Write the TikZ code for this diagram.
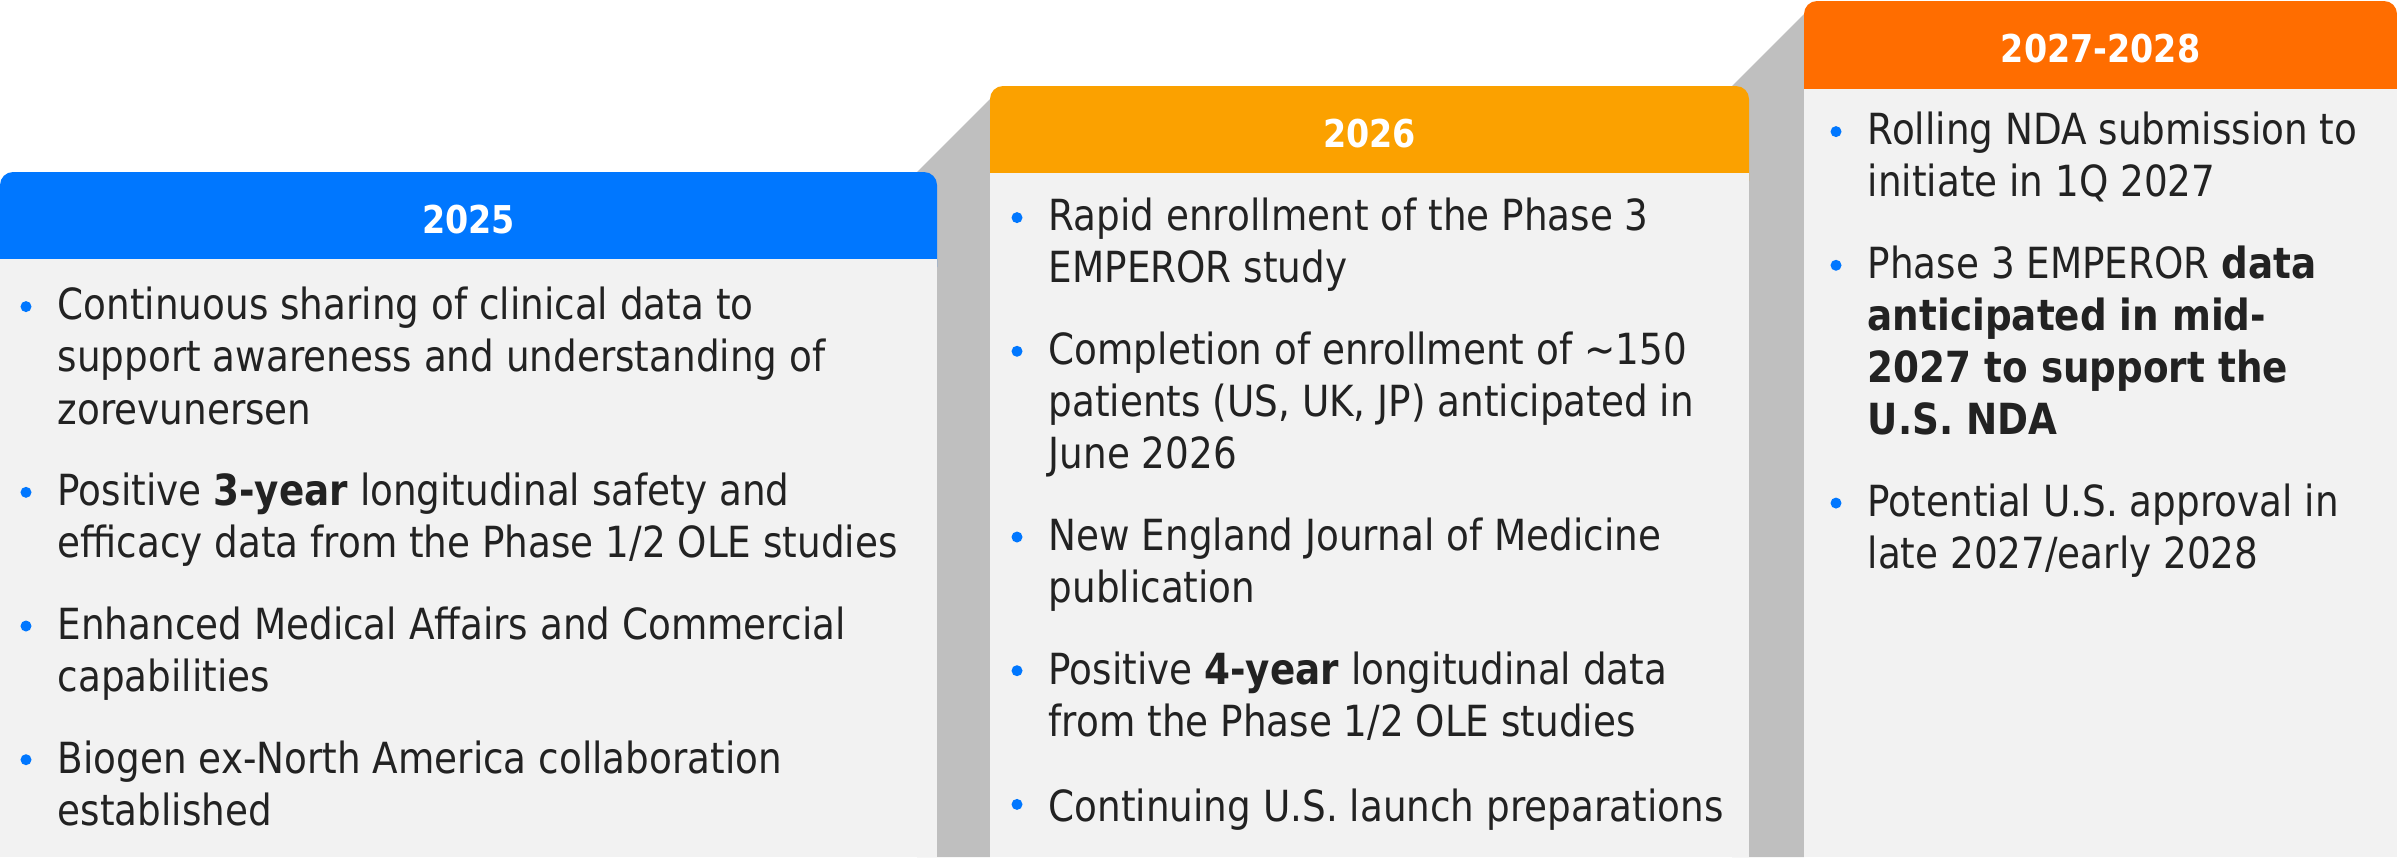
\documentclass[tikz,border=0pt]{standalone}
\usepackage{fontspec}
\setmainfont{DejaVu Sans}[FakeStretch=0.87]
\usetikzlibrary{positioning}

\definecolor{blue25}{HTML}{0077FF}
\definecolor{amber26}{HTML}{FBA100}
\definecolor{orange27}{HTML}{FF6D00}
\definecolor{panel}{HTML}{F2F2F2}
\definecolor{riser}{HTML}{BFBFBF}
\definecolor{ink}{HTML}{222222}

\tikzset{
    year/.style={ % white title in the coloured bar
    text=white, inner sep=0,
    font=\fontsize{10.9pt}{13pt}\selectfont\bfseries},
    point/.style={ % one bullet point of a column
    anchor=north west, align=left, inner sep=0, text=ink,
    font=\fontsize{12.2pt}{14.8pt}\selectfont,
    execute at begin node=\strut, execute at end node=\strut},
    next/.style={below=0.32cm of #1.south west, anchor=north west}}

\begin{document}
\begin{tikzpicture}[x=0.01cm, y=-0.01cm] % one unit per pixel, y pointing down
    \useasboundingbox (0,0) rectangle (2397,857);

    % Grey risers between the steps
    \fill[riser] (917,172) -- (990,99) -- (990,857) -- (917,857) -- cycle;
    \fill[riser] (1732,86) -- (1804,14) -- (1804,857) -- (1732,857) -- cycle;

    % 2025 column
    \fill[blue25, rounded corners=0.13cm] (0,172) rectangle (937,280);
    \fill[panel] (0,259) rectangle (937,857);
    \node[year] (h25) at (468.5,219.5) {2025};
    \node[point] (a1) at (57,286.6) {Continuous sharing of clinical data to\\support awareness and understanding of\\zorevunersen};
    \node[point, next=a1] (a2) {Positive \textbf{3-year} longitudinal safety and\\efficacy data from the Phase 1/2 OLE studies};
    \node[point, next=a2] (a3) {Enhanced Medical Affairs and Commercial\\capabilities};
    \node[point, next=a3] (a4) {Biogen ex-North America collaboration\\established};

    % 2026 column
    \fill[amber26, rounded corners=0.13cm] (990,86) rectangle (1749,194);
    \fill[panel] (990,173) rectangle (1749,857);
    \node[year] (h26) at (1369.5,133.5) {2026};
    \node[point] (b1) at (1048,197.6) {Rapid enrollment of the Phase 3\\EMPEROR study};
    \node[point, next=b1] (b2) {Completion of enrollment of \textasciitilde150\\patients (US, UK, JP) anticipated in\\June 2026};
    \node[point, next=b2] (b3) {New England Journal of Medicine\\publication};
    \node[point, next=b3] (b4) {Positive \textbf{4-year} longitudinal data\\from the Phase 1/2 OLE studies};
    \node[point, next=b4] (b5) {Continuing U.S. launch preparations};

    % 2027-2028 column
    \fill[orange27, rounded corners=0.13cm] (1804,1) rectangle (2397,110);
    \fill[panel] (1804,89) rectangle (2397,857);
    \node[year] (h27) at (2100.5,48.5) {2027-2028};
    \node[point] (c1) at (1867,111.6) {Rolling NDA submission to\\initiate in 1Q 2027};
    \node[point, next=c1] (c2) {Phase 3 EMPEROR \textbf{data}\\\textbf{anticipated in mid-}\\\textbf{2027 to support the}\\\textbf{U.S. NDA}};
    \node[point, next=c2] (c3) {Potential U.S. approval in\\late 2027/early 2028};

    % Blue dots in front of the points
    \foreach \n in {a1,a2,a3,a4,b1,b2,b3,b4,b5,c1,c2,c3}
        \fill[blue25] ([shift={(-31,20)}]\n.north west) circle (0.055cm);
\end{tikzpicture}
\end{document}
